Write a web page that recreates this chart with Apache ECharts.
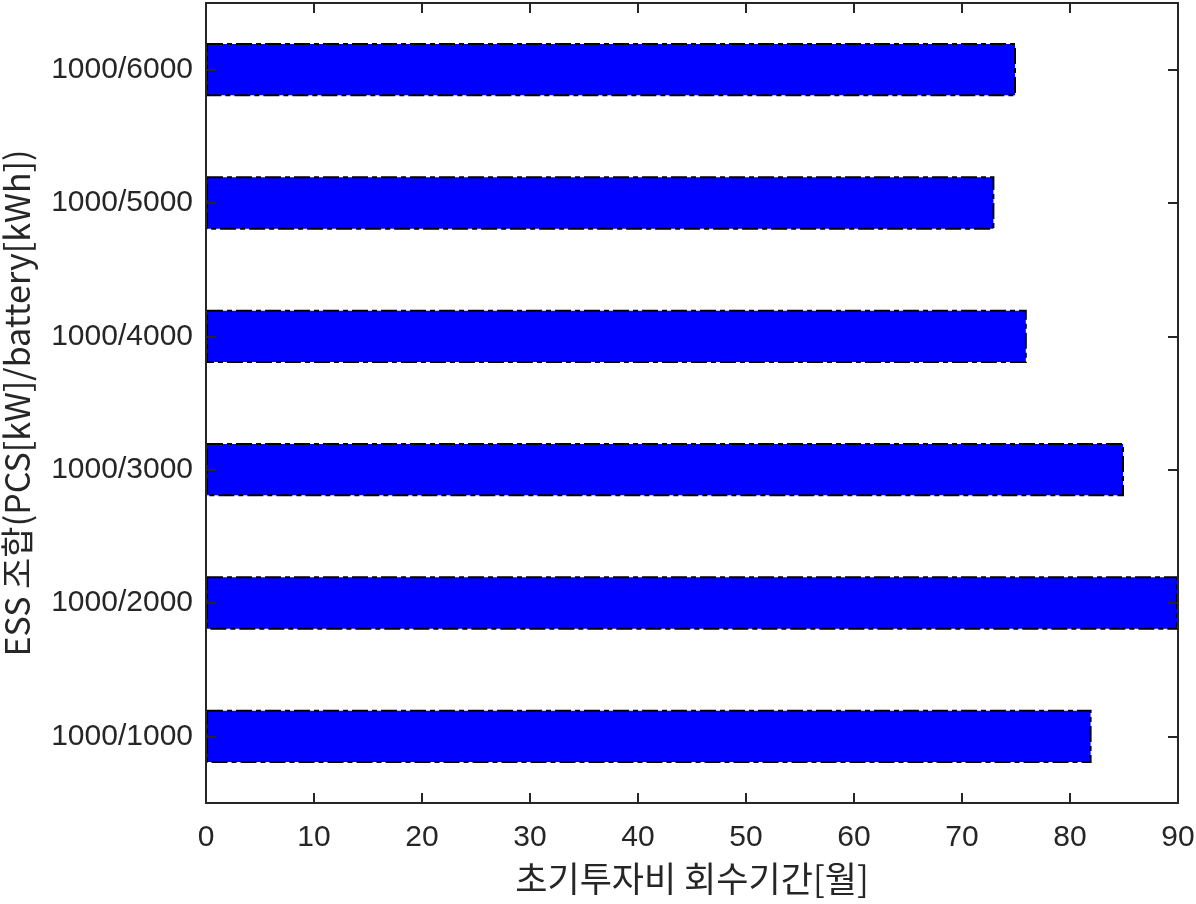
<!DOCTYPE html>
<html>
<head>
<meta charset="utf-8">
<script src="https://cdn.jsdelivr.net/npm/echarts@6/dist/echarts.min.js"></script>
<style>html,body{margin:0;padding:0;background:#fff}#c{width:1196px;height:904px}</style>
</head>
<body>
<div id="c"></div>
<script>
const categories = ['1000/1000', '1000/2000', '1000/3000', '1000/4000', '1000/5000', '1000/6000'];
const paybackMonths = [82, 90, 85, 76, 73, 75];
const xTicks = [0, 10, 20, 30, 40, 50, 60, 70, 80, 90];
const xTitle = '초기투자비 회수기간[월]';
const yTitle = 'ESS 조합(PCS[kW]/battery[kWh])';

const axisColor = '#262626';
const font = "'Liberation Sans', Arial, 'Noto Sans CJK KR', sans-serif";
const titleFont = "'Noto Sans CJK KR', 'Liberation Sans', sans-serif";
const chart = echarts.init(document.getElementById('c'), null, {renderer: 'canvas'});
function tick(extra) {
  return Object.assign({show: true, inside: true, length: 10, lineStyle: {color: axisColor, width: 2}}, extra || {});
}
chart.setOption({
  animation: false,
  backgroundColor: '#fff',
  grid: {left: 206, right: 18, top: 3, bottom: 101, containLabel: false, outerBoundsMode: 'none'},
  xAxis: [{
    type: 'value', min: xTicks[0], max: xTicks[xTicks.length - 1], interval: 10,
    position: 'bottom', z: 5,
    name: xTitle, nameLocation: 'middle', nameGap: 58,
    nameTextStyle: {fontSize: 35, color: axisColor, fontFamily: titleFont},
    axisLine: {show: true, lineStyle: {color: axisColor, width: 2}},
    axisTick: tick(),
    axisLabel: {fontSize: 30, color: axisColor, margin: 20, fontFamily: font},
    splitLine: {show: false}
  }, {
    type: 'value', min: xTicks[0], max: xTicks[xTicks.length - 1], interval: 10,
    position: 'top', z: 5,
    axisLine: {show: true, lineStyle: {color: axisColor, width: 2}},
    axisTick: tick(),
    axisLabel: {show: false},
    splitLine: {show: false}
  }],
  yAxis: [{
    type: 'category', data: categories, position: 'left', z: 5,
    name: yTitle, nameLocation: 'middle', nameGap: 172, nameRotate: 90,
    nameTextStyle: {fontSize: 34, color: axisColor, fontFamily: titleFont},
    axisLine: {show: true, onZero: false, lineStyle: {color: axisColor, width: 2}},
    axisTick: tick({alignWithLabel: true}),
    axisLabel: {fontSize: 30, color: axisColor, margin: 13, fontFamily: font},
    splitLine: {show: false}
  }, {
    type: 'category', data: categories, position: 'right', z: 5,
    axisLine: {show: true, onZero: false, lineStyle: {color: axisColor, width: 2}},
    axisTick: tick({alignWithLabel: true}),
    axisLabel: {show: false},
    splitLine: {show: false}
  }],
  series: [{
    type: 'bar',
    data: paybackMonths,
    xAxisIndex: 0, yAxisIndex: 0,
    barCategoryGap: '60%',
    z: 1,
    itemStyle: {
      color: '#0000ff',
      borderColor: '#000',
      borderWidth: 2,
      borderType: [16, 4, 5, 4]
    }
  }]
});
</script>
</body>
</html>
